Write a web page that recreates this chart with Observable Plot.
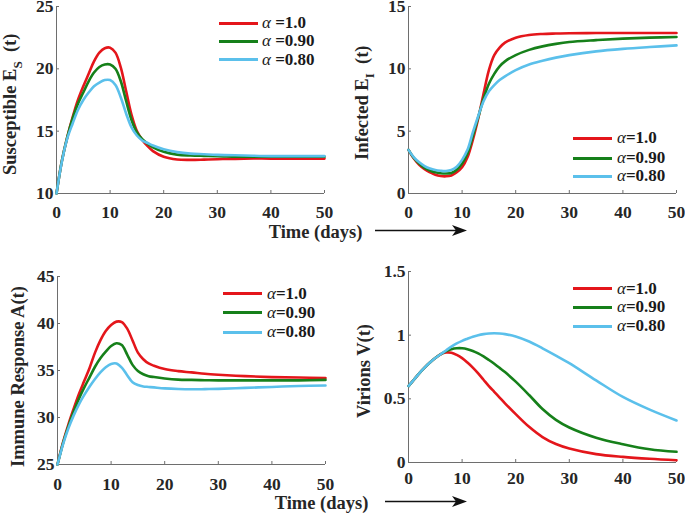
<!DOCTYPE html>
<html><head><meta charset="utf-8">
<script src="https://cdn.jsdelivr.net/npm/d3@7"></script>
<script src="https://cdn.jsdelivr.net/npm/@observablehq/plot@0.6"></script>
<style>
body{margin:0;background:#fff;}
#wrap{position:relative;width:685px;height:513px;overflow:hidden;font-family:"Liberation Serif","Times New Roman",serif;}
.panel{position:absolute;}
.leg{position:absolute;font-weight:bold;font-size:17px;color:#1a1a1a;white-space:nowrap;line-height:17px;}
.leg i{font-weight:normal;font-style:italic;}
.legline{position:absolute;height:3px;}
</style></head><body><div id="wrap"></div>
<script>
const days = [0,1,2,3,4,5,6,7,8,9,10,11,12,13,14,15,16,17,18,20,22.5,25,27.5,30,35,40,45,50];
const xTicks = [0,10,20,30,40,50];
const alphaValues = ["1.0","0.90","0.80"];
const lineColors = ["#e4161b","#16801a","#5bc0eb"];

// Susceptible E_S(t)
const susA10 = [10,12.6,14.5,16.1,17.5,18.6,19.6,20.6,21.3,21.65,21.7,21.3,20.1,18.2,16.3,15.0,14.3,13.8,13.4,12.95,12.73,12.7,12.72,12.75,12.8,12.8,12.8,12.8];
const susA09 = [10,12.6,14.5,16.0,17.2,18.1,19.0,19.7,20.15,20.35,20.35,20.0,19.0,17.4,15.9,14.9,14.35,14.0,13.7,13.35,13.12,13.05,13.02,13.0,12.95,12.95,12.95,12.95];
const susA08 = [10,12.55,14.4,15.6,16.7,17.5,18.1,18.6,18.9,19.1,19.1,18.7,17.7,16.4,15.3,14.65,14.25,14.05,13.85,13.55,13.32,13.2,13.15,13.1,13.05,13.0,13.0,13.0];
// Infected E_I(t)
const infA10 = [3.5,2.8,2.3,1.95,1.7,1.5,1.4,1.38,1.45,1.7,2.1,2.9,4.3,6.0,8.0,9.9,11.1,11.7,12.1,12.5,12.72,12.8,12.83,12.85,12.87,12.87,12.87,12.87];
const infA09 = [3.5,2.85,2.4,2.05,1.85,1.7,1.62,1.6,1.65,1.9,2.4,3.2,4.6,6.1,7.6,8.8,9.6,10.2,10.6,11.1,11.52,11.8,12.0,12.15,12.3,12.42,12.5,12.55];
const infA08 = [3.5,2.9,2.5,2.2,2.0,1.88,1.82,1.8,1.88,2.15,2.7,3.5,4.9,6.2,7.4,8.2,8.7,9.1,9.4,9.9,10.35,10.65,10.9,11.1,11.4,11.6,11.75,11.88];
// Immune response A(t)
const immA10 = [25,27.3,29.2,30.9,32.5,33.9,35.3,36.9,38.2,39.2,39.85,40.2,40.15,39.45,38.2,36.9,36.2,35.75,35.5,35.15,34.93,34.8,34.65,34.55,34.4,34.3,34.25,34.2];
const immA09 = [25,27.2,29.0,30.6,32.0,33.2,34.3,35.4,36.3,37.0,37.6,37.9,37.7,36.7,35.6,34.95,34.6,34.4,34.3,34.15,34.03,34.0,33.97,33.95,33.95,33.95,33.95,34.0];
const immA08 = [25,27.1,28.8,30.2,31.4,32.4,33.3,34.1,34.8,35.35,35.7,35.75,35.3,34.5,33.75,33.45,33.3,33.25,33.2,33.1,33.03,33.0,33.02,33.05,33.15,33.25,33.35,33.4];
// Virions V(t)
const virA10 = [0.6,0.65,0.70,0.745,0.785,0.82,0.85,0.864,0.862,0.845,0.82,0.785,0.745,0.70,0.65,0.60,0.555,0.51,0.465,0.38,0.28,0.2,0.145,0.11,0.066,0.044,0.029,0.018];
const virA09 = [0.6,0.65,0.70,0.745,0.785,0.82,0.85,0.875,0.89,0.897,0.897,0.89,0.876,0.857,0.833,0.805,0.775,0.743,0.71,0.635,0.53,0.42,0.335,0.275,0.195,0.144,0.104,0.084];
const virA08 = [0.6,0.65,0.70,0.745,0.785,0.82,0.85,0.88,0.91,0.935,0.955,0.972,0.988,1.0,1.008,1.013,1.015,1.013,1.008,0.99,0.95,0.897,0.84,0.78,0.645,0.515,0.415,0.33];

const wrap = document.getElementById("wrap");
const AX = "#6e6e6e", TXT = "#262626";
const FONT = '"Liberation Serif","Times New Roman",serif';

function rows(seriesArrays) {
  const out = [];
  seriesArrays.forEach((arr, k) => days.forEach((t, i) => out.push({t, v: arr[i], s: alphaValues[k]})));
  return out;
}

function panel(cfg) {
  const p = Plot.plot({
    width: cfg.w, height: cfg.h,
    marginLeft: cfg.ml, marginRight: cfg.mr, marginTop: cfg.mt, marginBottom: cfg.mb,
    style: {fontFamily: FONT, fontWeight: "bold", fontSize: "17.5px", color: TXT, background: "transparent", overflow: "visible"},
    x: {domain: [0, 50], label: null},
    y: {domain: cfg.yDomain, label: null},
    color: {domain: alphaValues, range: lineColors},
    marks: [
      Plot.axisX({ticks: xTicks, tickSize: -3, tickPadding: cfg.xPad, stroke: AX, fill: TXT, label: null, tickFormat: d => String(d)}),
      Plot.axisY({ticks: cfg.yTicks, tickSize: -3, tickPadding: 6, stroke: AX, fill: TXT, label: null, tickFormat: d => String(d)}),
      Plot.ruleX([0], {stroke: AX, strokeWidth: 1}),
      Plot.ruleY([cfg.yDomain[0]], {stroke: AX, strokeWidth: 1}),
      Plot.line(rows(cfg.series), {x: "t", y: "v", z: "s", stroke: "s", strokeWidth: 2.6, curve: "catmull-rom"})
    ]
  });
  p.classList.add("panel");
  p.style.left = cfg.left + "px";
  p.style.top = cfg.top + "px";
  wrap.appendChild(p);
  const svg = d3.select(p);
  const t = svg.append("text")
    .attr("transform", `translate(${cfg.lab.x},${cfg.lab.y}) rotate(-90)`)
    .attr("text-anchor", "start")
    .attr("font-size", "18.5px").attr("font-weight", "bold").attr("fill", TXT)
    .attr("font-family", FONT);
  t.append("tspan").text(cfg.lab.main);
  if (cfg.lab.sub) {
    t.append("tspan").attr("dy", 6).attr("font-size", "13px").text(cfg.lab.sub);
    t.append("tspan").attr("dy", -6).text(cfg.lab.tail);
  }
  alphaValues.forEach((a, k) => {
    const ln = document.createElement("div");
    ln.className = "legline";
    ln.style.left = cfg.leg.x1 + "px";
    ln.style.width = (cfg.leg.x2 - cfg.leg.x1) + "px";
    ln.style.top = (cfg.leg.rows[k] - 1.5) + "px";
    ln.style.background = lineColors[k];
    wrap.appendChild(ln);
    const tx = document.createElement("div");
    tx.className = "leg";
    tx.style.left = cfg.leg.tx + "px";
    tx.style.top = (cfg.leg.rows[k] - 9) + "px";
    tx.innerHTML = `<i>α</i>${cfg.leg.space ? "&nbsp;" : ""}=${a}`;
    wrap.appendChild(tx);
  });
}

panel({left: 0, top: 0, w: 340, h: 250, ml: 56, mr: 16, mt: 6, mb: 57, xPad: 15,
  yDomain: [10, 25], yTicks: [10, 15, 20, 25], series: [susA10, susA09, susA08],
  lab: {x: 15.5, y: 175, main: "Susceptible E", sub: "S", tail: "  (t)"},
  leg: {x1: 219, x2: 258, tx: 262, rows: [23, 41, 59.5], space: true}});
panel({left: 340, top: 0, w: 345, h: 250, ml: 68, mr: 9, mt: 6, mb: 57, xPad: 15,
  yDomain: [0, 15], yTicks: [0, 5, 10, 15], series: [infA10, infA09, infA08],
  lab: {x: 28, y: 160, main: "Infected E", sub: "I", tail: "  (t)"},
  leg: {x1: 573, x2: 612, tx: 617, rows: [138, 158, 176], space: false}});
panel({left: 0, top: 255, w: 340, h: 258, ml: 57, mr: 15, mt: 21, mb: 49, xPad: 16,
  yDomain: [25, 45], yTicks: [25, 30, 35, 40, 45], series: [immA10, immA09, immA08],
  lab: {x: 23.5, y: 212, main: "Immune Response A(t)"},
  leg: {x1: 223, x2: 262, tx: 267, rows: [293.5, 312.5, 332], space: false}});
panel({left: 340, top: 255, w: 345, h: 258, ml: 68, mr: 9, mt: 16, mb: 51, xPad: 12,
  yDomain: [0, 1.5], yTicks: [0, 0.5, 1, 1.5], series: [virA10, virA09, virA08],
  lab: {x: 30, y: 163, main: "Virions V(t)"},
  leg: {x1: 573, x2: 612, tx: 617, rows: [288.5, 307, 326], space: false}});

const ov = d3.select(wrap).append("svg")
  .attr("width", 685).attr("height", 513)
  .style("position", "absolute").style("left", "0px").style("top", "0px").style("pointer-events", "none");
[{cx: 315.5, cy: 231.5, a1: 375, a2: 467}, {cx: 321.5, cy: 502.5, a1: 385, a2: 467}].forEach(o => {
  ov.append("text").attr("x", o.cx).attr("y", o.cy).attr("dy", "0.35em")
    .attr("text-anchor", "middle").attr("font-size", "18.5px").attr("font-weight", "bold")
    .attr("font-family", FONT).attr("fill", TXT)
    .text("Time (days)");
  const ay = o.cy - 1;
  ov.append("line").attr("x1", o.a1).attr("x2", o.a2 - 6).attr("y1", ay).attr("y2", ay)
    .attr("stroke", "#111").attr("stroke-width", 1.3);
  ov.append("path")
    .attr("d", `M${o.a2},${ay} L${o.a2 - 15},${ay - 5.5} L${o.a2 - 11},${ay} L${o.a2 - 15},${ay + 5.5} Z`)
    .attr("fill", "#111");
});
</script>
</body></html>
